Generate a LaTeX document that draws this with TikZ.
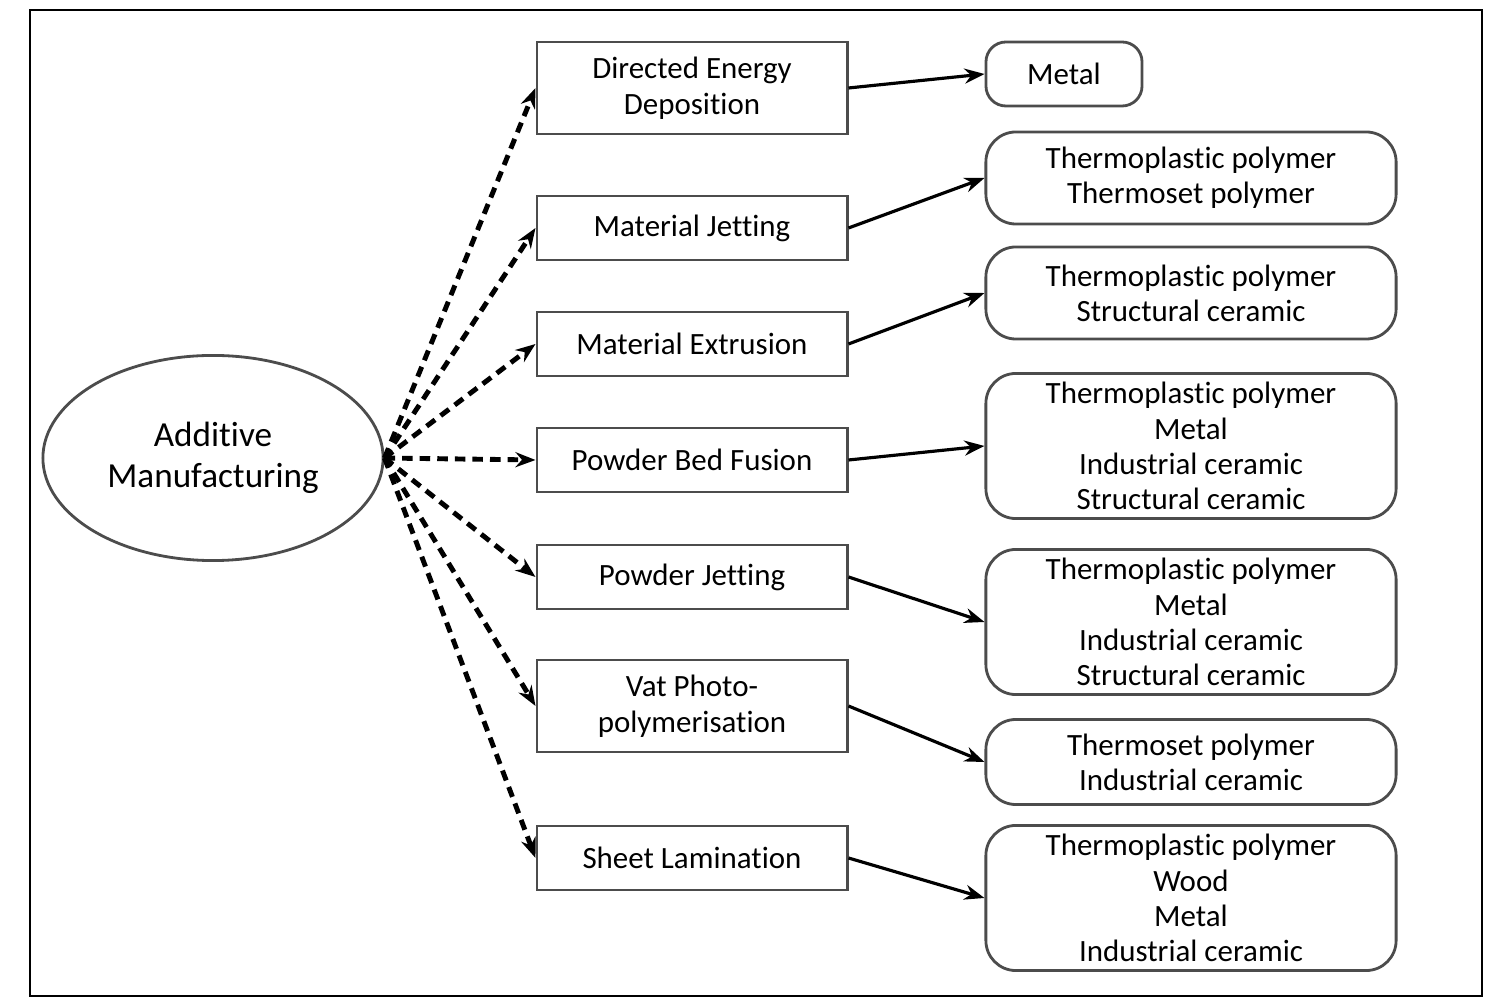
\documentclass[tikz,border=0pt]{standalone}
\usepackage{fontspec}
\setmainfont{Carlito}[Ligatures=NoCommon]
\usetikzlibrary{shapes,arrows.meta}

\begin{document}
\begin{tikzpicture}[x=0.01cm,y=-0.01cm]
    \tikzstyle{process}  = [draw=black!70,thick,minimum width=3.1cm,align=center,font=\fontsize{8.8}{10.2}\selectfont]
    \tikzstyle{material} = [draw=black!70,thick,rounded corners=0.3cm,minimum width=4.1cm,inner sep=1.5pt,align=center,font=\fontsize{8.8}{10}\selectfont]
    \tikzstyle{dashed edge} = [-{Stealth[length=2mm]},black,line width=1.4pt,dash pattern=on 3pt off 2pt]
    \tikzstyle{edge}        = [-{Stealth[length=2mm]},black,line width=0.9pt]

    \useasboundingbox (0,0) rectangle (1512,1001);
    \draw[line width=0.8pt] (30,10) rectangle (1482,996);

    \node[ellipse,draw=black!70,thick,minimum width=3.4cm,minimum height=2.05cm,align=center,
          font=\fontsize{10}{11.5}\selectfont] (am) at (213,458) {Additive\\Manufacturing};

    \node[process,minimum height=0.92cm] (ded) at (692,88)  {Directed Energy\\Deposition};
    \node[process,minimum height=0.64cm] (mj)  at (692,228) {Material Jetting};
    \node[process,minimum height=0.64cm] (me)  at (692,344) {Material Extrusion};
    \node[process,minimum height=0.64cm] (pbf) at (692,460) {Powder Bed Fusion};
    \node[process,minimum height=0.64cm] (pj)  at (692,577) {Powder Jetting};
    \node[process,minimum height=0.92cm] (vat) at (692,706) {Vat Photo-\\polymerisation};
    \node[process,minimum height=0.64cm] (sl)  at (692,858) {Sheet Lamination};

    \node[material,minimum width=1.56cm,minimum height=0.64cm,rounded corners=0.2cm] (m1) at (1064,74) {Metal};
    \node[material,minimum height=0.92cm] (m2) at (1191,178) {Thermoplastic polymer\\Thermoset polymer};
    \node[material,minimum height=0.92cm] (m3) at (1191,293) {Thermoplastic polymer\\Structural ceramic};
    \node[material,minimum height=1.45cm] (m4) at (1191,446) {Thermoplastic polymer\\Metal\\Industrial ceramic\\Structural ceramic};
    \node[material,minimum height=1.45cm] (m5) at (1191,622) {Thermoplastic polymer\\Metal\\Industrial ceramic\\Structural ceramic};
    \node[material,minimum height=0.85cm] (m6) at (1191,762) {Thermoset polymer\\Industrial ceramic};
    \node[material,minimum height=1.45cm] (m7) at (1191,898) {Thermoplastic polymer\\Wood\\Metal\\Industrial ceramic};

    \foreach \p in {ded,mj,me,pbf,pj,vat,sl}
        \draw[dashed edge] (am.east) -- (\p.west);

    \draw[edge] (ded.east) -- (m1.west);
    \draw[edge] (mj.east)  -- (m2.west);
    \draw[edge] (me.east)  -- (m3.west);
    \draw[edge] (pbf.east) -- (m4.west);
    \draw[edge] (pj.east)  -- (m5.west);
    \draw[edge] (vat.east) -- (m6.west);
    \draw[edge] (sl.east)  -- (m7.west);
\end{tikzpicture}
\end{document}
